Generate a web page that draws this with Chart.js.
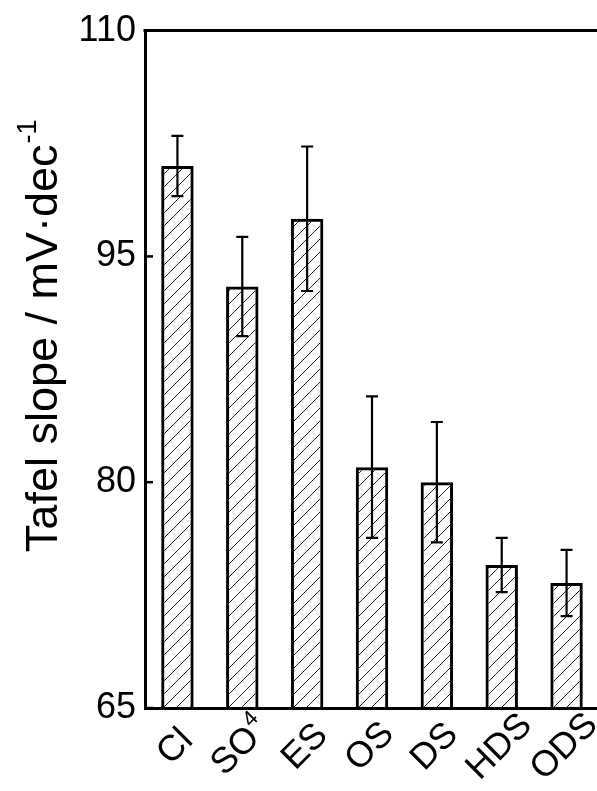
<!DOCTYPE html>
<html>
<head>
<meta charset="utf-8">
<script src="https://cdn.jsdelivr.net/npm/chart.js@4/dist/chart.umd.min.js"></script>
<style>
  html, body { margin: 0; padding: 0; background: #fff; overflow: hidden; }
  #wrap { width: 599px; height: 791px; }
</style>
</head>
<body>
<div id="wrap"><canvas id="tafel" width="599" height="791"></canvas></div>
<script>
// --- data ---
const categories = ['Cl', 'SO4', 'ES', 'OS', 'DS', 'HDS', 'ODS'];
const tafelSlope = [101, 93, 97.5, 81, 80, 74.5, 73.3];
const tafelError = [2, 3.3, 4.8, 4.7, 4, 1.8, 2.2];
const yTicks = [65, 80, 95, 110];

const FONT = '"Liberation Sans", Arial, sans-serif';
const LABEL_SIZE = 36;

// diagonal "/" hatch used to fill the bars
function makeHatch() {
    const size = 13;
    const c = document.createElement('canvas');
    c.width = size; c.height = size;
    const g = c.getContext('2d');
    g.strokeStyle = '#222';
    g.lineWidth = 1;
    g.beginPath();
    g.moveTo(-1, size + 1); g.lineTo(size + 1, -1);
    g.moveTo(-size - 1, size + 1); g.lineTo(1, -1);
    g.moveTo(size - 1, size + 1); g.lineTo(2 * size + 1, -1);
    g.stroke();
    return g.createPattern(c, 'repeat');
}

// error bars, top frame line, inner ticks, category labels and axis title
const decor = {
    id: 'decor',
    afterDatasetsDraw(chart) {
        const { ctx, chartArea: area, scales: { x, y } } = chart;
        ctx.save();
        ctx.strokeStyle = '#000';
        ctx.fillStyle = '#000';

        // error bars
        ctx.lineWidth = 2.2;
        tafelSlope.forEach((v, i) => {
            const cx = x.getPixelForValue(i);
            const hi = y.getPixelForValue(v + tafelError[i]);
            const lo = y.getPixelForValue(v - tafelError[i]);
            ctx.beginPath();
            ctx.moveTo(cx, hi); ctx.lineTo(cx, lo);
            ctx.moveTo(cx - 6, hi); ctx.lineTo(cx + 6, hi);
            ctx.moveTo(cx - 6, lo); ctx.lineTo(cx + 6, lo);
            ctx.stroke();
        });

        // top frame
        ctx.lineWidth = 3;
        ctx.beginPath();
        ctx.moveTo(area.left - 1.5, area.top);
        ctx.lineTo(area.right, area.top);
        ctx.stroke();

        // inward y ticks
        ctx.lineWidth = 2.5;
        yTicks.forEach(t => {
            const py = y.getPixelForValue(t);
            ctx.beginPath();
            ctx.moveTo(area.left, py); ctx.lineTo(area.left + 8, py);
            ctx.stroke();
        });

        // rotated category labels, centred under each bar
        categories.forEach((name, i) => {
            const cx = x.getPixelForValue(i) - 2;
            const cy = area.bottom + 39;
            ctx.save();
            ctx.translate(cx, cy);
            ctx.rotate(-Math.PI / 4);
            ctx.textBaseline = 'middle';
            ctx.textAlign = 'left';
            const big = LABEL_SIZE + 'px ' + FONT;
            const small = Math.round(LABEL_SIZE * 0.6) + 'px ' + FONT;
            if (name === 'SO4') {
                ctx.font = big;
                const wMain = ctx.measureText('SO').width;
                ctx.font = small;
                const wSub = ctx.measureText('4').width;
                const start = -(wMain + wSub) / 2;
                ctx.font = big;
                ctx.fillText('SO', start, 0);
                ctx.font = small;
                ctx.fillText('4', start + wMain + 1, -12);
            } else {
                ctx.font = big;
                const w = ctx.measureText(name).width;
                ctx.fillText(name, -w / 2, 0);
            }
            ctx.restore();
        });

        // y axis title with superscript
        const main = 'Tafel slope / mV\u00B7dec';
        const sup = '-1';
        ctx.font = '45px ' + FONT;
        const wMain = ctx.measureText(main).width;
        ctx.font = '27px ' + FONT;
        const wSup = ctx.measureText(sup).width;
        const mid = (area.top + area.bottom) / 2 - 33;
        ctx.save();
        ctx.translate(57, mid);
        ctx.rotate(-Math.PI / 2);
        ctx.textBaseline = 'alphabetic';
        ctx.textAlign = 'left';
        const start = -(wMain + wSup) / 2;
        ctx.font = '45px ' + FONT;
        ctx.fillText(main, start, 0);
        ctx.font = '27px ' + FONT;
        ctx.fillText(sup, start + wMain + 1, -21);
        ctx.restore();

        ctx.restore();
    }
};

new Chart(document.getElementById('tafel'), {
    type: 'bar',
    data: {
        labels: categories,
        datasets: [{
            data: tafelSlope,
            backgroundColor: makeHatch(),
            borderColor: '#000',
            borderWidth: 3,
            borderSkipped: false,
            barPercentage: 0.5,
            categoryPercentage: 1
        }]
    },
    options: {
        responsive: false,
        animation: false,
        events: [],
        layout: { padding: { top: 26, right: 0, bottom: 83, left: 0 } },
        plugins: { legend: { display: false }, tooltip: { enabled: false } },
        scales: {
            x: {
                afterFit(scale) { scale.height = 0; },
                grid: { display: false },
                ticks: { display: false },
                border: { display: true, color: '#000', width: 3 }
            },
            y: {
                min: 65,
                max: 110,
                afterFit(scale) { scale.width = 145; },
                afterBuildTicks(scale) { scale.ticks = yTicks.map(v => ({ value: v })); },
                grid: { display: false, drawTicks: false },
                border: { display: true, color: '#000', width: 3 },
                ticks: {
                    color: '#000',
                    padding: 9,
                    font: { family: FONT, size: LABEL_SIZE }
                }
            }
        }
    },
    plugins: [decor]
});
</script>
</body>
</html>
